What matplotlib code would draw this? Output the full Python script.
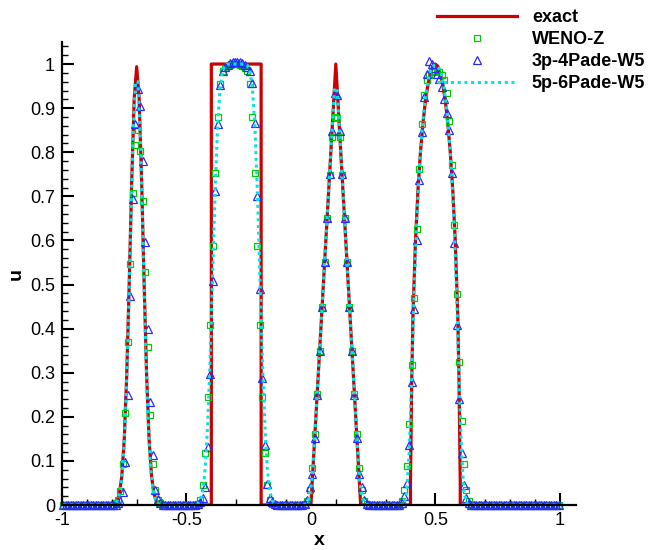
import numpy as np
import matplotlib.pyplot as plt
from matplotlib.ticker import MultipleLocator, FuncFormatter

plt.rcParams['font.family'] = ['Liberation Sans', 'DejaVu Sans']
plt.rcParams['axes.unicode_minus'] = False

# exact solution (polyline)
exact_x = [-1.0, -0.8, -0.79, -0.78, -0.77, -0.76, -0.75, -0.74, -0.73, -0.72, -0.71, -0.7,
           -0.69, -0.68, -0.67, -0.66, -0.65, -0.64, -0.63, -0.62, -0.61, -0.6,
           -0.4, -0.4, -0.2, -0.2, 0.0, 0.1, 0.2,
           0.4, 0.4, 0.405, 0.41, 0.42, 0.43, 0.44, 0.45, 0.46, 0.47, 0.48, 0.49, 0.5,
           0.51, 0.52, 0.53, 0.54, 0.55, 0.56, 0.57, 0.58, 0.59, 0.595, 0.6, 0.6, 1.0]
exact_u = [0.0, 0.0, 0.002, 0.008, 0.024, 0.064, 0.148, 0.294, 0.501, 0.733, 0.921, 0.994,
           0.921, 0.733, 0.501, 0.294, 0.148, 0.064, 0.024, 0.008, 0.002, 0.0,
           0.0, 1.0, 1.0, 0.0, 0.0, 1.0, 0.0,
           0.0, 0.052, 0.281, 0.430, 0.598, 0.713, 0.799, 0.865, 0.916, 0.953, 0.979, 0.995, 1.0,
           0.995, 0.979, 0.953, 0.916, 0.865, 0.799, 0.713, 0.598, 0.430, 0.281, 0.052, 0.0, 0.0]

# numerical solutions on 200 cell centres
weno_z = [
    0, 0, 0, 0, 0, 0, 0, 0, 0, 0,
    0, 0, 0, 0, 0, 0, 0, 0, 0, 0,
    0.001, 0.004, 0.011, 0.032, 0.094, 0.209, 0.369, 0.547, 0.707, 0.816,
    0.851, 0.803, 0.689, 0.529, 0.358, 0.204, 0.094, 0.034, 0.011, 0.004,
    0.001, 0, 0, 0, 0, 0, 0, 0, 0, 0,
    0, 0, 0, 0, 0.003, 0.012, 0.045, 0.117, 0.244, 0.409,
    0.588, 0.754, 0.879, 0.954, 0.984, 0.992, 0.996, 0.998, 0.999, 1.0,
    0.999, 0.998, 0.996, 0.992, 0.984, 0.954, 0.88, 0.754, 0.588, 0.409,
    0.244, 0.118, 0.045, 0.012, 0.003, 0, 0, 0, 0, 0,
    0, 0, 0, 0, 0, 0, 0, 0.003, 0.01, 0.035,
    0.085, 0.16, 0.252, 0.35, 0.45, 0.55, 0.65, 0.748, 0.835, 0.879,
    0.877, 0.835, 0.748, 0.65, 0.55, 0.45, 0.35, 0.252, 0.16, 0.085,
    0.035, 0.01, 0.003, 0, 0, 0, 0, 0, 0, 0,
    0, 0, 0, 0, 0, 0, 0.01, 0.034, 0.089, 0.184,
    0.318, 0.47, 0.626, 0.762, 0.865, 0.93, 0.963, 0.975, 0.982, 0.985,
    0.985, 0.982, 0.975, 0.963, 0.935, 0.87, 0.77, 0.634, 0.478, 0.324,
    0.19, 0.093, 0.033, 0.01, 0, 0, 0, 0, 0, 0,
    0, 0, 0, 0, 0, 0, 0, 0, 0, 0,
    0, 0, 0, 0, 0, 0, 0, 0, 0, 0,
    0, 0, 0, 0, 0, 0, 0, 0, 0, 0,
]
pade_3p4 = [
    0, 0, 0, 0, 0, 0, 0, 0, 0, 0,
    0, 0, 0, 0, 0, 0, 0, 0, 0, 0,
    0, 0.001, 0.004, 0.01, 0.03, 0.098, 0.25, 0.473, 0.694, 0.864,
    0.943, 0.905, 0.78, 0.597, 0.40, 0.234, 0.113, 0.034, 0.013, 0.004,
    0.001, 0, 0, 0, 0, 0, 0, 0, 0, 0,
    0, 0, 0, 0, 0.002, 0.006, 0.016, 0.041, 0.132, 0.296,
    0.509, 0.713, 0.864, 0.952, 0.984, 0.993, 0.998, 1.002, 1.004, 1.005,
    1.005, 1.004, 1.002, 0.998, 0.993, 0.984, 0.958, 0.867, 0.70, 0.49,
    0.287, 0.136, 0.048, 0.016, 0.006, 0.002, 0, 0, 0, 0,
    0, 0, 0, 0, 0, 0, 0, 0.002, 0.012, 0.04,
    0.07, 0.152, 0.25, 0.35, 0.45, 0.55, 0.65, 0.75, 0.848, 0.935,
    0.93, 0.848, 0.75, 0.65, 0.55, 0.45, 0.35, 0.25, 0.152, 0.07,
    0.04, 0.012, 0.002, 0, 0, 0, 0, 0, 0, 0,
    0, 0, 0, 0, 0, 0, 0.005, 0.02, 0.049, 0.136,
    0.279, 0.444, 0.602, 0.738, 0.847, 0.925, 0.978, 1.008, 1.0, 0.99,
    0.978, 0.965, 0.948, 0.92, 0.888, 0.851, 0.753, 0.595, 0.409, 0.241,
    0.117, 0.045, 0.015, 0.004, 0, 0, 0, 0, 0, 0,
    0, 0, 0, 0, 0, 0, 0, 0, 0, 0,
    0, 0, 0, 0, 0, 0, 0, 0, 0, 0,
    0, 0, 0, 0, 0, 0, 0, 0, 0, 0,
]
pade_5p6 = [
    0, 0, 0, 0, 0, 0, 0, 0, 0, 0,
    0, 0, 0, 0, 0, 0, 0, 0, 0, 0,
    0, 0.004, 0.012, 0.035, 0.09, 0.20, 0.38, 0.60, 0.83, 0.96,
    0.96, 0.83, 0.60, 0.38, 0.20, 0.09, 0.035, 0.012, 0.004, 0,
    0, 0, 0, 0, 0, 0, 0, 0, 0, 0,
    0, 0, 0, 0, 0.003, 0.01, 0.03, 0.08, 0.18, 0.33,
    0.52, 0.71, 0.86, 0.945, 0.985, 0.997, 1.0, 1.0, 1.0, 1.0,
    1.0, 1.0, 1.0, 1.0, 0.997, 0.985, 0.945, 0.86, 0.71, 0.52,
    0.33, 0.18, 0.08, 0.03, 0.01, 0.003, 0, 0, 0, 0,
    0, 0, 0, 0, 0, 0, 0, 0.001, 0.005, 0.02,
    0.06, 0.15, 0.25, 0.35, 0.45, 0.55, 0.65, 0.75, 0.85, 0.945,
    0.945, 0.85, 0.75, 0.65, 0.55, 0.45, 0.35, 0.25, 0.15, 0.06,
    0.02, 0.005, 0.001, 0, 0, 0, 0, 0, 0, 0,
    0, 0, 0, 0, 0, 0, 0, 0.005, 0.03, 0.12,
    0.29, 0.49, 0.64, 0.755, 0.84, 0.9, 0.945, 0.975, 0.99, 0.997,
    0.997, 0.99, 0.975, 0.945, 0.9, 0.84, 0.755, 0.64, 0.49, 0.29,
    0.12, 0.03, 0.005, 0, 0, 0, 0, 0, 0, 0,
    0, 0, 0, 0, 0, 0, 0, 0, 0, 0,
    0, 0, 0, 0, 0, 0, 0, 0, 0, 0,
    0, 0, 0, 0, 0, 0, 0, 0, 0, 0,
]

n_cells = len(weno_z)
xc = -1 + 0.01 * (np.arange(n_cells) + 0.5)

fig = plt.figure(figsize=(6.52, 5.5), dpi=100)
ax = fig.add_axes([62 / 652, 45 / 550, 514 / 652, 463 / 550])

ax.plot(exact_x, exact_u, color='#cc0000', lw=2.3, label='exact', zorder=2)
ax.plot(xc, weno_z, ls='none', marker='s', ms=4.2, mfc='none', mec='#00cc00', mew=0.9,
        label='WENO-Z', clip_on=False, zorder=3)
ax.plot(xc, pade_3p4, ls='none', marker='^', ms=5.2, mfc='none', mec='#2a2aff', mew=0.9,
        label='3p-4Pade-W5', clip_on=False, zorder=3)
ax.plot(xc, pade_5p6, color='#00e6e6', lw=2.2, ls=(0, (1, 1.2)), label='5p-6Pade-W5', zorder=4)

ax.set_xlim(-1, 1.065)
ax.set_ylim(0, 1.05)
ax.spines['top'].set_visible(False)
ax.spines['right'].set_visible(False)
for s in ('left', 'bottom'):
    ax.spines[s].set_linewidth(1.6)
    ax.spines[s].set_zorder(5)

ax.set_xticks([-1, -0.5, 0, 0.5, 1])
ax.xaxis.set_minor_locator(MultipleLocator(0.1))
ax.yaxis.set_major_locator(MultipleLocator(0.1))
ax.yaxis.set_minor_locator(MultipleLocator(0.02))
fmt = FuncFormatter(lambda v, p: '%g' % round(v, 3))
ax.xaxis.set_major_formatter(fmt)
ax.yaxis.set_major_formatter(fmt)
ax.tick_params(which='major', direction='in', length=8.5, width=1.5, labelsize=13, pad=5)
ax.tick_params(which='minor', direction='in', length=4.2, width=1.0)

ax.set_xlabel('x', fontsize=14, fontweight='bold', labelpad=2)
ax.set_ylabel('u', fontsize=14, fontweight='bold', labelpad=4)

fig.legend(loc='upper left', bbox_to_anchor=(437 / 652, 1 - 9 / 550), frameon=False,
           prop={'weight': 'bold', 'size': 13}, handlelength=4.45, handletextpad=0.8,
           labelspacing=0.28, borderpad=0, borderaxespad=0, numpoints=1)

fig.savefig('out.png', dpi=100)
